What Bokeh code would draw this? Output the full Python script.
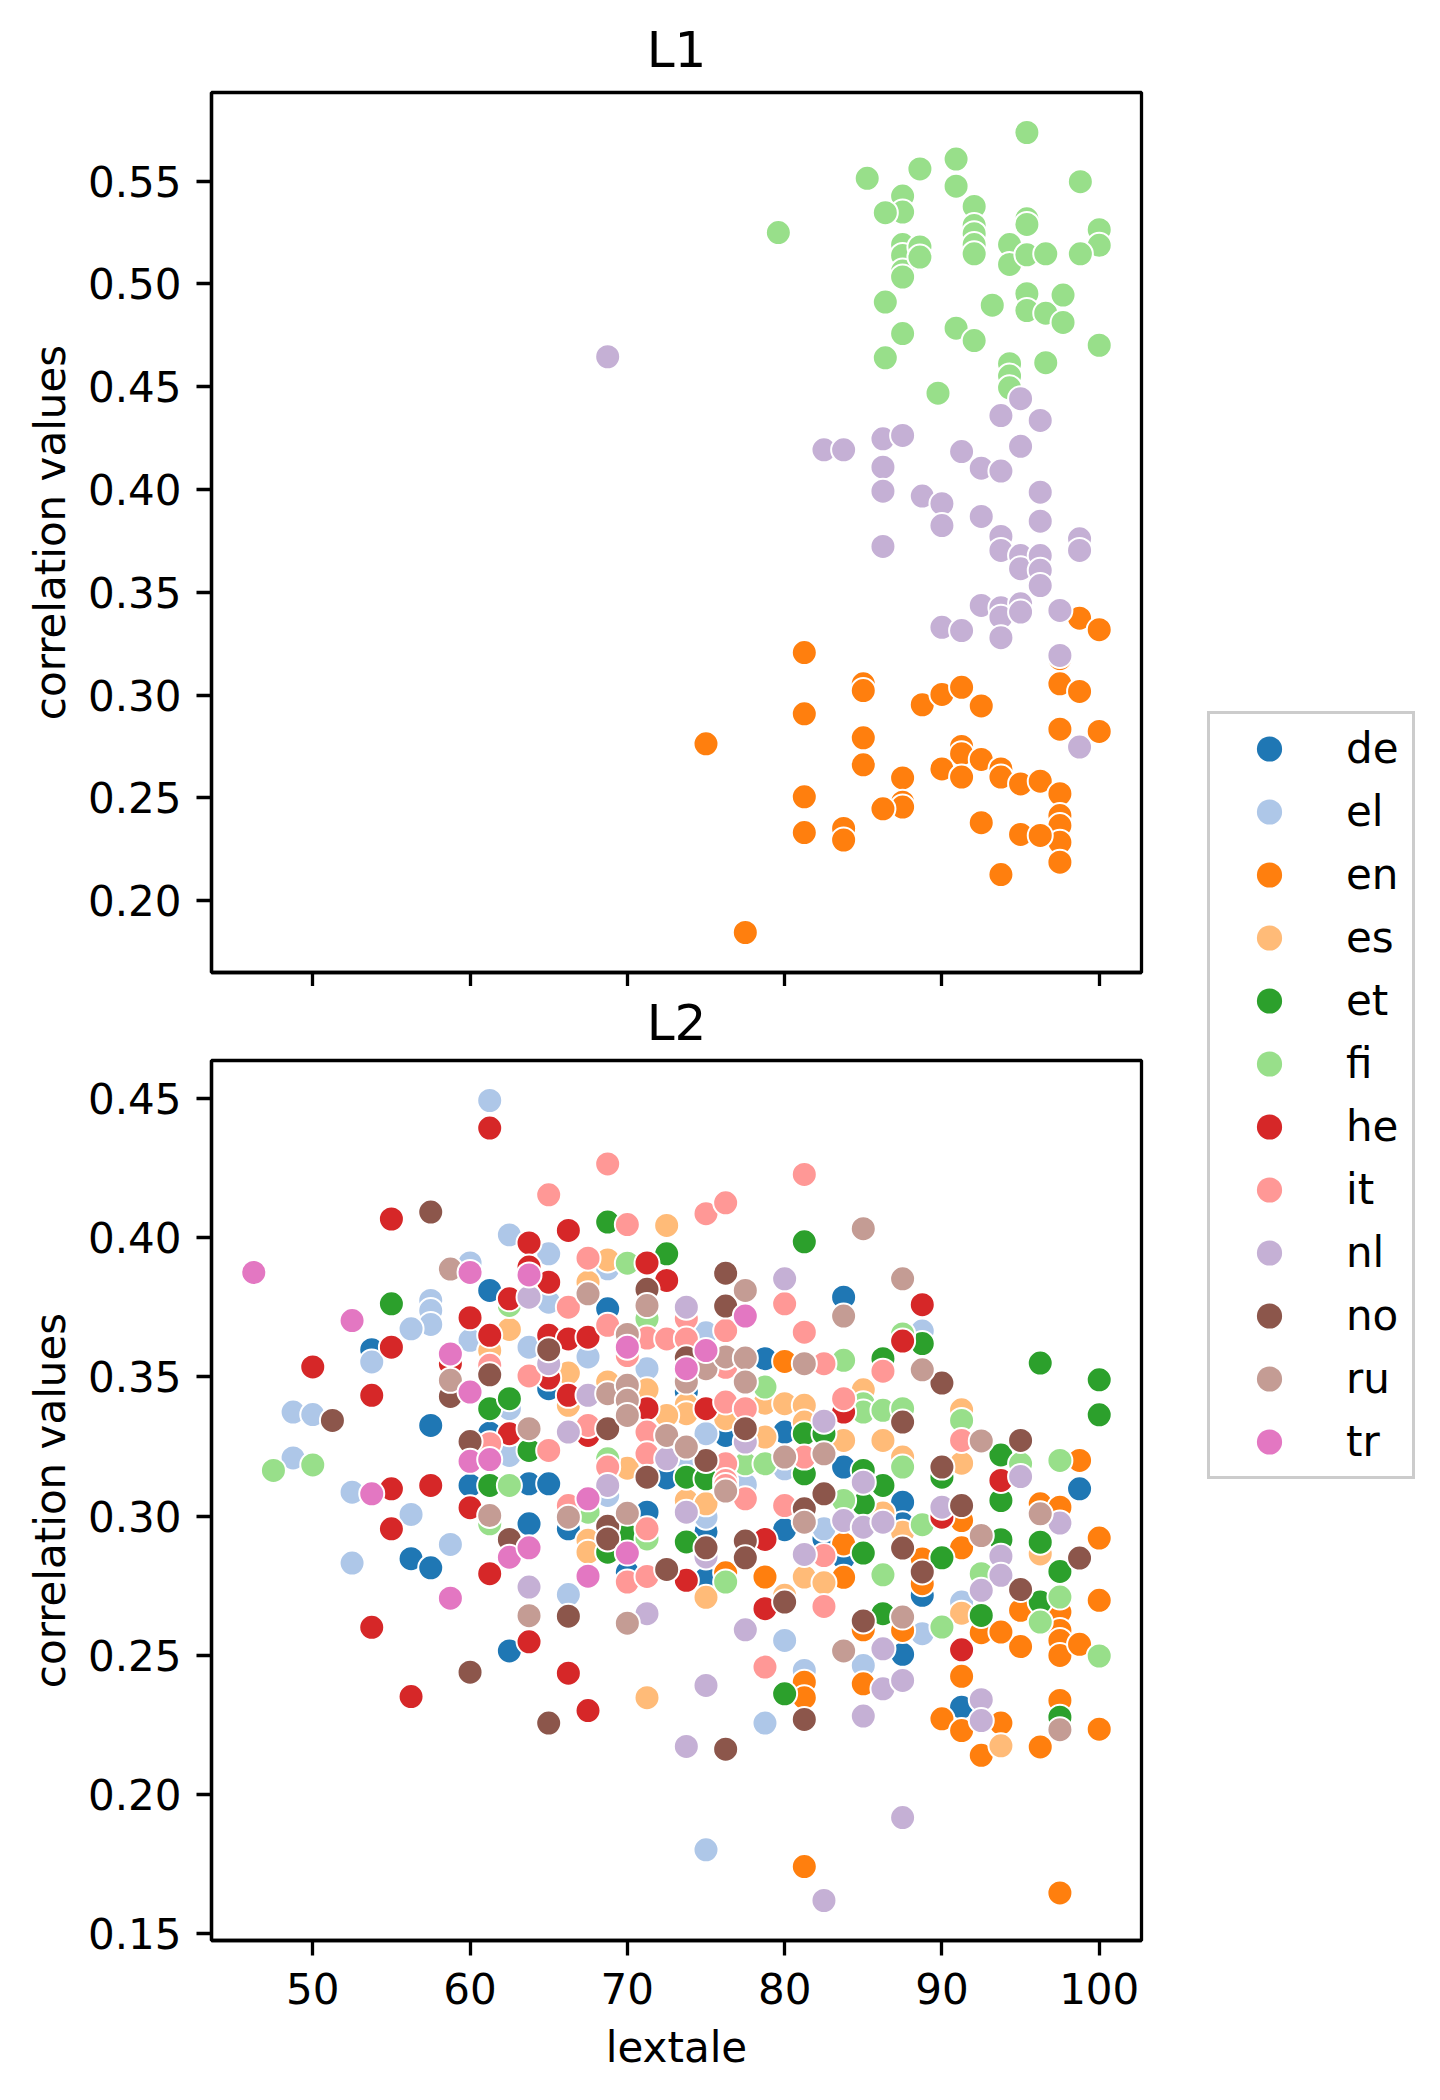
from bokeh.plotting import figure
from bokeh.models import Range1d, FixedTicker, PrintfTickFormatter, Legend, LegendItem, ColumnDataSource
from bokeh.layouts import row, column
from bokeh.embed import file_html
from bokeh.resources import INLINE

LANGS = ["de", "el", "en", "es", "et", "fi", "he", "it", "nl", "no", "ru", "tr"]
COLORS = ["#1f77b4", "#aec7e8", "#ff7f0e", "#ffbb78", "#2ca02c", "#98df8a",
          "#d62728", "#ff9896", "#c5b0d5", "#8c564b", "#c49c94", "#e377c2"]

X_TICKS = [50, 60, 70, 80, 90, 100]
Y_TICKS_L1 = [0.20, 0.25, 0.30, 0.35, 0.40, 0.45, 0.50, 0.55]
Y_TICKS_L2 = [0.15, 0.20, 0.25, 0.30, 0.35, 0.40, 0.45]

# ---------------- L1 ----------------
l1_fi_lextale = [79.6, 85.25, 88.6, 90.9, 90.9, 95.4, 98.8, 87.5, 87.5, 86.4, 92.05, 92.05, 92.05, 92.05, 92.05,
                 95.4, 95.4, 100, 100, 94.3, 94.3, 95.4, 96.6, 98.8, 87.5, 87.5, 87.5, 87.5, 88.6, 88.6,
                 86.4, 93.2, 95.4, 95.4, 96.6, 97.7, 97.7, 87.5, 90.9, 92.05, 86.4, 100, 96.6, 94.3, 94.3, 94.3, 89.75]
l1_fi_corr = [0.525, 0.5514, 0.556, 0.5608, 0.5476, 0.5737, 0.5498, 0.5428, 0.535, 0.5347, 0.5377, 0.5285, 0.5245, 0.5192, 0.5147,
              0.5317, 0.529, 0.5264, 0.5188, 0.5192, 0.5095, 0.5142, 0.5147, 0.5147, 0.5192, 0.5139, 0.5063, 0.5034, 0.518, 0.5131,
              0.4912, 0.4897, 0.4953, 0.4871, 0.4858, 0.4946, 0.4813, 0.4759, 0.4785, 0.4725, 0.4641, 0.4702, 0.4617, 0.4612, 0.4552, 0.4495, 0.4469]

l1_nl_lextale = [68.75, 82.5, 83.75, 86.25, 87.5, 86.25, 86.25, 88.75, 90.0, 90.0, 91.25, 92.5, 93.75, 93.75, 95.0,
                 96.25, 95.0, 96.25, 92.5, 96.25, 86.25, 93.75, 93.75, 95.0, 95.0, 96.25, 96.25, 96.25, 98.75, 98.75,
                 92.5, 93.75, 93.75, 95.0, 95.0, 97.5, 90.0, 91.25, 93.75, 97.5, 98.75]
l1_nl_corr = [0.4646, 0.4193, 0.4193, 0.4247, 0.4263, 0.4109, 0.3992, 0.3968, 0.3931, 0.3825, 0.4185, 0.4104, 0.409, 0.436, 0.4442,
              0.4336, 0.421, 0.3987, 0.3869, 0.3846, 0.3723, 0.3772, 0.3704, 0.3679, 0.3615, 0.3679, 0.3607, 0.3533, 0.376, 0.3704,
              0.3436, 0.3425, 0.3379, 0.3444, 0.3404, 0.3412, 0.333, 0.3314, 0.3279, 0.3193, 0.2747]

l1_en_lextale = [98.75, 100, 81.25, 85.0, 85.0, 97.5, 97.5, 98.75, 88.75, 90.0, 91.25, 92.5, 81.25, 75.0, 85.0,
                 85.0, 97.5, 100, 91.25, 91.25, 92.5, 90.0, 91.25, 93.75, 93.75, 95.0, 96.25, 87.5, 87.5, 87.5,
                 86.25, 81.25, 81.25, 83.75, 83.75, 97.5, 97.5, 97.5, 97.5, 97.5, 92.5, 95.0, 96.25, 93.75, 77.5]
l1_en_corr = [0.3374, 0.3318, 0.3207, 0.3055, 0.3022, 0.3177, 0.3055, 0.3018, 0.2953, 0.3003, 0.3038, 0.2947, 0.2909, 0.2763, 0.2792,
              0.2661, 0.2834, 0.2823, 0.275, 0.2715, 0.2687, 0.2641, 0.2601, 0.2641, 0.2601, 0.2568, 0.2581, 0.2597, 0.2479, 0.2455,
              0.2447, 0.2505, 0.2331, 0.2351, 0.2295, 0.252, 0.2414, 0.2365, 0.2284, 0.2187, 0.2379, 0.2322, 0.2317, 0.2127, 0.1845]

# ---------------- L2 ----------------
l2_de_lextale = [61.25, 53.75, 65, 57.5, 61.25, 60, 63.75, 65, 68.75, 83.75, 78.75, 73.75, 76.25, 80, 83.75, 72.5,
                 98.75, 56.25, 57.5, 63.75, 62.5, 66.25, 71.25, 70, 75, 75, 80, 82.5, 87.5, 87.5, 83.75, 88.75, 87.5, 91.25]
l2_de_corr = [0.3811, 0.3598, 0.3458, 0.3326, 0.3298, 0.311, 0.3116, 0.3116, 0.3745, 0.3787, 0.3566, 0.3446, 0.329, 0.3302, 0.3176, 0.3137,
              0.3098, 0.2847, 0.2814, 0.2972, 0.2515, 0.2954, 0.3014, 0.2798, 0.2775, 0.2945, 0.2951, 0.2918, 0.305, 0.2972, 0.285, 0.2715, 0.2503, 0.2313]

l2_el_lextale = [61.25, 62.5, 65, 60, 65, 57.5, 57.5, 57.5, 56.25, 60, 63.75, 53.75, 62.5, 48.75, 50, 62.5, 48.75, 52.5,
                 68.75, 75, 67.5, 71.25, 75, 73.75, 80, 77.5, 88.75, 56.25, 58.75, 52.5,
                 68.75, 70, 66.25, 75, 77.5, 82.5, 80, 81.25, 78.75, 75, 88.75, 91.25, 85]
l2_el_corr = [0.4494, 0.4011, 0.3943, 0.391, 0.3769, 0.3775, 0.3739, 0.3689, 0.3673, 0.3632, 0.3607, 0.3554, 0.3386, 0.3374, 0.3365, 0.3218, 0.3209, 0.3086,
              0.3889, 0.3659, 0.3572, 0.353, 0.3296, 0.3206, 0.317, 0.3122, 0.3665, 0.3006, 0.2898, 0.2831,
              0.3074, 0.2978, 0.2718, 0.2996, 0.3113, 0.2954, 0.2553, 0.2445, 0.2256, 0.18, 0.2577, 0.2691, 0.2463]

l2_en_lextale = [80, 98.75, 76.25, 78.75, 81.25, 81.25, 81.25,
                 83.75, 83.75, 88.75, 88.75, 91.25, 91.25, 96.25, 97.5, 100, 95, 97.5, 97.5, 97.5, 97.5, 98.75, 95, 100,
                 97.5, 100, 96.25, 97.5, 85, 87.5, 92.5, 93.75, 85, 91.25, 90, 91.25, 93.75, 92.5]
l2_en_corr = [0.3556, 0.32, 0.2796, 0.2781, 0.2403, 0.2347, 0.174,
              0.29, 0.278, 0.2846, 0.2757, 0.2984, 0.2886, 0.3044, 0.3032, 0.2921, 0.2661, 0.2655, 0.2589, 0.2553, 0.2499, 0.2539, 0.2531, 0.2697,
              0.2337, 0.2234, 0.217, 0.1645, 0.2591, 0.2589, 0.2581, 0.2583, 0.2397, 0.2424, 0.2271, 0.2229, 0.2256, 0.214]

l2_es_lextale = [62.5, 61.25, 72.5, 68.75, 67.5, 66.25, 68.75, 71.25, 73.75, 73.75, 76.25, 78.75, 80, 81.25, 81.25, 83.75,
                 66.25, 72.5, 78.75, 70, 85, 91.25, 86.25, 87.5, 91.25, 67.5, 67.5, 75, 73.75, 75, 80, 81.25, 82.5, 71.25,
                 86.25, 87.5, 96.25, 91.25, 93.75]
l2_es_corr = [0.3671, 0.3595, 0.4045, 0.3921, 0.3841, 0.3514, 0.3482, 0.3454, 0.3401, 0.3368, 0.335, 0.3406, 0.3404, 0.3398, 0.3338, 0.3272,
              0.3398, 0.3362, 0.3284, 0.3172, 0.3454, 0.3382, 0.3272, 0.3212, 0.319, 0.2913, 0.287, 0.2708, 0.3056, 0.3044, 0.2715, 0.2781, 0.276, 0.2347,
              0.3011, 0.2942, 0.2864, 0.2651, 0.2174]

l2_et_lextale = [55, 61.25, 62.5, 63.75, 61.25, 68.75, 81.25, 72.5, 81.25, 82.5, 81.25, 73.75, 75,
                 88.75, 86.25, 96.25, 100, 100, 93.75, 90, 85, 86.25, 68.75, 70, 73.75, 80,
                 93.75, 85, 85, 90, 93.75, 96.25, 97.5, 96.25, 86.25, 92.5, 97.5]
l2_et_corr = [0.3763, 0.3386, 0.3422, 0.3236, 0.311, 0.4057, 0.3986, 0.3943, 0.3296, 0.3296, 0.3152, 0.314, 0.3134,
              0.362, 0.3566, 0.355, 0.349, 0.3364, 0.322, 0.314, 0.3164, 0.311, 0.287, 0.293, 0.2907, 0.2361,
              0.3056, 0.3044, 0.2867, 0.285, 0.2915, 0.2906, 0.2801, 0.2691, 0.2649, 0.2643, 0.2277]

l2_fi_lextale = [62.5, 47.5, 50, 62.5, 70, 71.25, 83.75, 78.75, 77.5, 78.75, 68.75,
                 87.5, 85, 85, 86.25, 87.5, 91.25, 95, 97.5, 87.5, 61.25, 67.5, 71.25, 76.25,
                 83.75, 88.75, 86.25, 92.5, 97.5, 96.25, 100, 90]
l2_fi_corr = [0.3757, 0.3164, 0.3184, 0.311, 0.3909, 0.3709, 0.356, 0.3464, 0.3188, 0.3188, 0.3206,
              0.3655, 0.3404, 0.3374, 0.338, 0.3386, 0.3344, 0.3188, 0.32, 0.3176, 0.2972, 0.3014, 0.2918, 0.2763,
              0.3056, 0.2969, 0.2789, 0.2793, 0.2709, 0.2619, 0.2497, 0.2601]

l2_he_lextale = [61.25, 55, 63.75, 63.75, 65, 62.5, 60, 61.25, 65, 55, 50, 58.75, 65, 53.75, 62.5, 55, 57.5,
                 66.25, 71.25, 72.5, 66.25, 67.5, 71.25, 75, 83.75, 66.25, 67.5,
                 88.75, 87.5, 93.75, 55, 53.75, 56.25, 60, 61.25, 63.75,
                 73.75, 78.75, 78.75, 66.25, 67.5, 90, 91.25]
l2_he_corr = [0.4395, 0.4068, 0.3982, 0.3895, 0.3841, 0.3781, 0.3713, 0.365, 0.365, 0.3607, 0.3536, 0.3548, 0.3496, 0.3434, 0.3296, 0.3098, 0.311,
              0.4027, 0.391, 0.3847, 0.3637, 0.3643, 0.3386, 0.3386, 0.3374, 0.3434, 0.329,
              0.376, 0.3629, 0.3128, 0.2954, 0.26, 0.2351, 0.303, 0.2793, 0.2548,
              0.2769, 0.2916, 0.2667, 0.2435, 0.2301, 0.2996, 0.2519]

l2_it_lextale = [65, 61.25, 63.75, 61.25, 65,
                 68.75, 81.25, 75, 76.25, 70, 67.5, 80, 73.75, 68.75, 66.25, 81.25, 71.25, 72.5, 73.75, 76.25, 70, 76.25,
                 82.5, 83.75, 76.25, 77.5, 67.5, 71.25, 81.25, 68.75, 71.25, 76.25, 76.25,
                 86.25, 91.25, 66.25, 71.25, 70, 71.25, 76.25, 77.5, 80, 82.5, 82.5, 78.75]
l2_it_corr = [0.4155, 0.3542, 0.3504, 0.326, 0.3236,
              0.4266, 0.4228, 0.4087, 0.4126, 0.4048, 0.3927, 0.3763, 0.3709, 0.3686, 0.3751, 0.3661, 0.364, 0.3637, 0.3637, 0.3667, 0.3577, 0.3535,
              0.3548, 0.3422, 0.341, 0.3386, 0.3326, 0.3302, 0.3212, 0.3176, 0.3224, 0.3188, 0.3128,
              0.3521, 0.3272, 0.3038, 0.2954, 0.2763, 0.2783, 0.311, 0.3062, 0.3038, 0.2858, 0.2675, 0.2457]

l2_nl_lextale = [63.75, 65, 80, 73.75, 67.5, 82.5, 66.25, 77.5, 72.5, 95, 85, 63.75,
                 68.75, 71.25, 73.75, 75, 81.25, 77.5, 75, 73.75, 82.5,
                 83.75, 85, 86.25, 90, 93.75, 93.75, 92.5, 97.5, 86.25, 86.25, 87.5, 85, 92.5, 92.5, 87.5]
l2_nl_corr = [0.3787, 0.3548, 0.3853, 0.3751, 0.3434, 0.3341, 0.3302, 0.3266, 0.3206, 0.3142, 0.3122, 0.2745,
              0.311, 0.2649, 0.3014, 0.2853, 0.2862, 0.2591, 0.2391, 0.2172, 0.1618,
              0.2984, 0.296, 0.2978, 0.3032, 0.2856, 0.2787, 0.2733, 0.2975, 0.2523, 0.2379, 0.2409, 0.2281, 0.234, 0.2265, 0.1916]

l2_no_lextale = [57.5, 65, 61.25, 58.75, 51.25, 60, 71.25, 76.25, 76.25, 73.75, 77.5, 68.75, 75, 71.25,
                 90, 87.5, 95, 90, 62.5, 60, 65,
                 68.75, 68.75, 66.25, 72.5, 75, 77.5, 77.5, 80, 81.25, 82.5, 81.25, 76.25,
                 87.5, 88.75, 91.25, 98.75, 95, 85]
l2_no_corr = [0.4093, 0.3598, 0.3508, 0.343, 0.3344, 0.3268, 0.3815, 0.3873, 0.3755, 0.3569, 0.3314, 0.3314, 0.32, 0.314,
              0.3478, 0.3338, 0.3272, 0.3176, 0.2916, 0.2439, 0.2256,
              0.2963, 0.2918, 0.264, 0.2808, 0.2886, 0.291, 0.285, 0.2691, 0.3026, 0.308, 0.2269, 0.2162,
              0.2885, 0.2799, 0.3038, 0.2849, 0.2736, 0.2623]

l2_ru_lextale = [58.75, 58.75, 63.75, 67.5, 71.25, 77.5, 83.75, 70, 75, 76.25, 77.5, 81.25, 68.75, 70, 70, 70, 73.75, 77.5,
                 72.5, 73.75, 80, 82.5, 85, 87.5, 88.75, 92.5, 61.25, 63.75, 66.25, 70, 70, 76.25, 81.25,
                 92.5, 96.25, 97.5, 87.5, 83.75]
l2_ru_corr = [0.3888, 0.3488, 0.3314, 0.3799, 0.3757, 0.3811, 0.3719, 0.3653, 0.353, 0.3572, 0.3568, 0.3548, 0.344, 0.347, 0.3416, 0.3362, 0.3482, 0.3482,
              0.329, 0.3248, 0.3212, 0.3224, 0.4033, 0.3853, 0.3526, 0.327, 0.3002, 0.2642, 0.2996, 0.301, 0.2615, 0.309, 0.2978,
              0.293, 0.3008, 0.2232, 0.2637, 0.2515]

l2_tr_lextale = [46.25, 60, 63.75, 52.5, 58.75, 60, 60, 61.25, 53.75, 77.5, 70, 75, 73.75,
                 58.75, 62.5, 63.75, 67.5, 70, 67.5]
l2_tr_corr = [0.3876, 0.3876, 0.3867, 0.3703, 0.3583, 0.3446, 0.3197, 0.3203, 0.308, 0.3719, 0.3607, 0.3595, 0.353,
              0.2705, 0.2852, 0.2886, 0.3062, 0.2867, 0.2784]

L1_DATA = {"en": (l1_en_lextale, l1_en_corr), "nl": (l1_nl_lextale, l1_nl_corr), "fi": (l1_fi_lextale, l1_fi_corr)}
L2_DATA = {
    "de": (l2_de_lextale, l2_de_corr), "el": (l2_el_lextale, l2_el_corr), "en": (l2_en_lextale, l2_en_corr),
    "es": (l2_es_lextale, l2_es_corr), "et": (l2_et_lextale, l2_et_corr), "fi": (l2_fi_lextale, l2_fi_corr),
    "he": (l2_he_lextale, l2_he_corr), "it": (l2_it_lextale, l2_it_corr), "nl": (l2_nl_lextale, l2_nl_corr),
    "no": (l2_no_lextale, l2_no_corr), "ru": (l2_ru_lextale, l2_ru_corr), "tr": (l2_tr_lextale, l2_tr_corr),
}
COLOR_OF = dict(zip(LANGS, COLORS))

FONT = "DejaVu Sans"
TICK_FS = "42px"

# layout (page pixels)
LEFT = 211
FRAME_W = 930
FRAME_H = 880
RIGHT = 20
TOP1 = 92
BOT1 = 14
TOP2 = 60
BOT2 = 150


def padded(vals):
    lo, hi = min(vals), max(vals)
    d = (hi - lo) * 0.05
    return Range1d(lo - d, hi + d)


def source_of(data):
    xs, ys, cs = [], [], []
    for lang in LANGS:
        if lang in data:
            x, y = data[lang]
            xs += list(x)
            ys += list(y)
            cs += [COLOR_OF[lang]] * len(x)
    return ColumnDataSource(dict(x=xs, y=ys, c=cs))


src1 = source_of(L1_DATA)
src2 = source_of(L2_DATA)

all_x = list(src1.data["x"]) + list(src2.data["x"])
x_rng = padded(all_x)
y_rng1 = padded(src1.data["y"])
y_rng2 = padded(src2.data["y"])


def make_panel(title, src, y_rng, y_ticks, border_top, border_bottom, show_x, title_standoff):
    p = figure(frame_width=FRAME_W, frame_height=FRAME_H, x_range=x_rng, y_range=y_rng,
               toolbar_location=None, output_backend="svg",
               min_border_left=LEFT, min_border_right=RIGHT,
               min_border_top=border_top, min_border_bottom=border_bottom,
               background_fill_color="white", border_fill_color="white")
    p.title.text = title
    p.title.text_font = FONT
    p.title.text_font_size = "50px"
    p.title.text_font_style = "normal"
    p.title.align = "center"
    p.title.vertical_align = "top"
    p.title.text_color = "black"
    p.title.standoff = title_standoff
    p.xgrid.visible = False
    p.ygrid.visible = False
    p.outline_line_color = "black"
    p.outline_line_width = 3.3
    p.outline_line_alpha = 1
    for ax in (p.xaxis[0], p.yaxis[0]):
        ax.axis_line_width = 3.3
        ax.axis_line_color = "black"
        ax.major_tick_line_width = 3.3
        ax.major_tick_line_color = "black"
        ax.major_tick_out = 15
        ax.major_tick_in = 0
        ax.minor_tick_out = 0
        ax.minor_tick_in = 0
        ax.major_label_text_font = FONT
        ax.major_label_text_font_size = TICK_FS
        ax.major_label_text_color = "black"
        ax.axis_label_text_font = FONT
        ax.axis_label_text_font_size = TICK_FS
        ax.axis_label_text_font_style = "normal"
        ax.axis_label_text_color = "black"
    p.xaxis.ticker = FixedTicker(ticks=X_TICKS)
    p.yaxis.ticker = FixedTicker(ticks=y_ticks)
    p.yaxis.formatter = PrintfTickFormatter(format="%.2f")
    p.yaxis.axis_label = "correlation values"
    p.yaxis.axis_label_standoff = 10
    p.yaxis.major_label_standoff = 15
    if show_x:
        p.xaxis.axis_label = "lextale"
        p.xaxis.major_label_standoff = 17
        p.xaxis.axis_label_standoff = 16
    else:
        # shared x axis: ticks only, no labels (as in the reference)
        p.xaxis.major_tick_out = 14
        p.xaxis.major_label_text_font_size = "0px"
        p.xaxis.major_label_text_color = None
        p.xaxis.major_label_standoff = 0
    p.scatter(x="x", y="y", source=src, size=25, fill_color="c", line_color="white",
              line_width=2, fill_alpha=1)
    return p


p1 = make_panel("L1", src1, y_rng1, Y_TICKS_L1, TOP1, BOT1, False, 24)
p2 = make_panel("L2", src2, y_rng2, Y_TICKS_L2, TOP2, BOT2, True, 14)

TOTAL_H = TOP1 + FRAME_H + BOT1 + 74 + FRAME_H + BOT2
COL_W = LEFT + FRAME_W + RIGHT
LEG_W = 1432 - COL_W

pleg = figure(width=LEG_W, height=TOTAL_H, x_range=Range1d(0, 1), y_range=Range1d(0, 1),
              toolbar_location=None, output_backend="svg", min_border=0,
              background_fill_color="white", border_fill_color="white")
pleg.axis.visible = False
pleg.xgrid.visible = False
pleg.ygrid.visible = False
pleg.outline_line_color = None

nan = float("nan")
items = []
for lang in LANGS:
    # legend proxy: no visible data point, only its swatch is used by the legend
    r = pleg.scatter(x=[nan], y=[nan], size=25, fill_color=COLOR_OF[lang], line_color=None)
    items.append(LegendItem(label=lang, renderers=[r]))

LEG_BOX_LEFT = 1207
LEG_BOX_BOTTOM = 1479
legend = Legend(items=items, location=(LEG_BOX_LEFT - COL_W, TOTAL_H - LEG_BOX_BOTTOM),
                glyph_width=112, glyph_height=63, spacing=0, padding=3,
                label_standoff=21, label_width=63, label_height=42,
                label_text_font=FONT, label_text_font_size=TICK_FS, label_text_color="black",
                border_line_color="#cccccc", border_line_width=3, border_line_alpha=1,
                background_fill_color="white", background_fill_alpha=1, margin=0)
pleg.add_layout(legend, "center")

layout = row(column(p1, p2), pleg)

open("out.html", "w").write(file_html(layout, INLINE))
